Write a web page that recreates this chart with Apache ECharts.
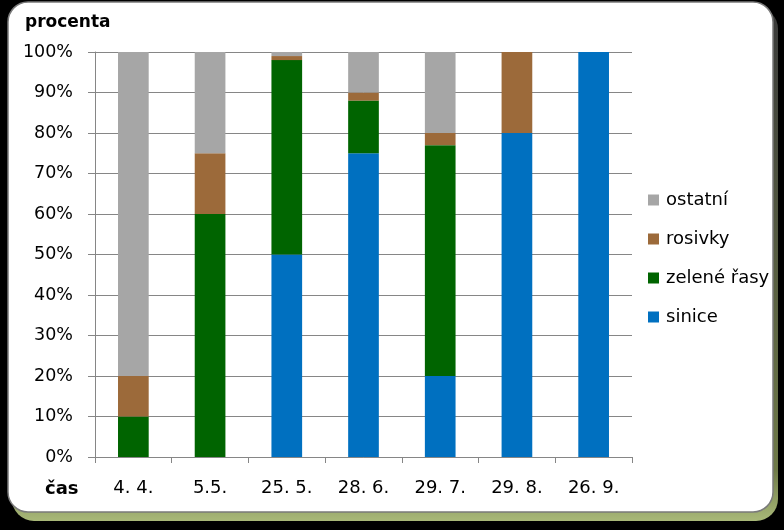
<!DOCTYPE html>
<html>
<head>
<meta charset="utf-8">
<script src="https://cdn.jsdelivr.net/npm/echarts@6/dist/echarts.min.js"></script>
<style>
html,body{margin:0;padding:0;background:#000;}
#c{width:784px;height:530px;}
</style>
</head>
<body>
<div id="c"></div>
<script>
var categories = ['4. 4.', '5.5.', '25. 5.', '28. 6.', '29. 7.', '29. 8.', '26. 9.'];
var sinice = [0, 0, 50, 75, 20, 80, 100];
var zeleneRasy = [10, 60, 48, 13, 57, 0, 0];
var rosivky = [10, 15, 1, 2, 3, 20, 0];
var ostatni = [80, 25, 1, 10, 20, 0, 0];
var yTicks = [0, 10, 20, 30, 40, 50, 60, 70, 80, 90, 100];

var FONT = 'DejaVu Sans';
var chart = echarts.init(document.getElementById('c'));
function ser(name, data, color) {
  return { name: name, type: 'bar', stack: 'a', data: data, barWidth: '40%',
    itemStyle: { color: color }, emphasis: { disabled: true } };
}
chart.setOption({
  backgroundColor: '#000',
  animation: false,
  graphic: [
    { type: 'rect', z: -10, shape: { x: 12, y: 7, width: 766, height: 514, r: 22 },
      style: { fill: new echarts.graphic.LinearGradient(0, 0, 0, 1, [
        { offset: 0, color: '#3a3a3a' }, { offset: 0.9, color: '#6f7a48' }, { offset: 1, color: '#a8b878' }]) } },
    { type: 'rect', z: -9, shape: { x: 8, y: 2, width: 765, height: 510, r: 20 },
      style: { fill: '#fff', stroke: '#7a7a7a', lineWidth: 1.5 } },
    { type: 'text', left: 25, top: 14, style: { text: 'procenta', font: 'bold 17px ' + FONT, fill: '#000' } },
    { type: 'text', left: 45, top: 480, style: { text: 'čas', font: 'bold 18px ' + FONT, fill: '#000' } }
  ],
  legend: {
    orient: 'vertical', left: 643, top: 186, itemWidth: 11, itemHeight: 11, itemGap: 21,
    icon: 'rect',
    data: ['ostatní', 'rosivky', 'zelené řasy', 'sinice'],
    textStyle: { fontFamily: FONT, fontSize: 18, color: '#000', padding: [0, 0, 0, 2] }
  },
  grid: { left: 95, right: 152, top: 52, bottom: 73 },
  xAxis: {
    type: 'category', data: categories,
    axisLine: { lineStyle: { color: '#868686', width: 1 } },
    axisTick: { show: true, length: 6, lineStyle: { color: '#868686' } },
    axisLabel: { color: '#000', fontFamily: FONT, fontSize: 18, margin: 22 }
  },
  yAxis: {
    type: 'value', min: yTicks[0], max: yTicks[yTicks.length - 1], interval: 10,
    axisLine: { show: true, lineStyle: { color: '#868686', width: 1 } },
    axisTick: { show: true, length: 7, lineStyle: { color: '#868686' } },
    axisLabel: { color: '#000', fontFamily: FONT, fontSize: 17.5, margin: 22, formatter: '{value}%' },
    splitLine: { lineStyle: { color: '#868686', width: 1 } }
  },
  series: [
    ser('sinice', sinice, '#0070c0'),
    ser('zelené řasy', zeleneRasy, '#006400'),
    ser('rosivky', rosivky, '#9c6a3a'),
    ser('ostatní', ostatni, '#a6a6a6')
  ]
});
</script>
</body>
</html>
